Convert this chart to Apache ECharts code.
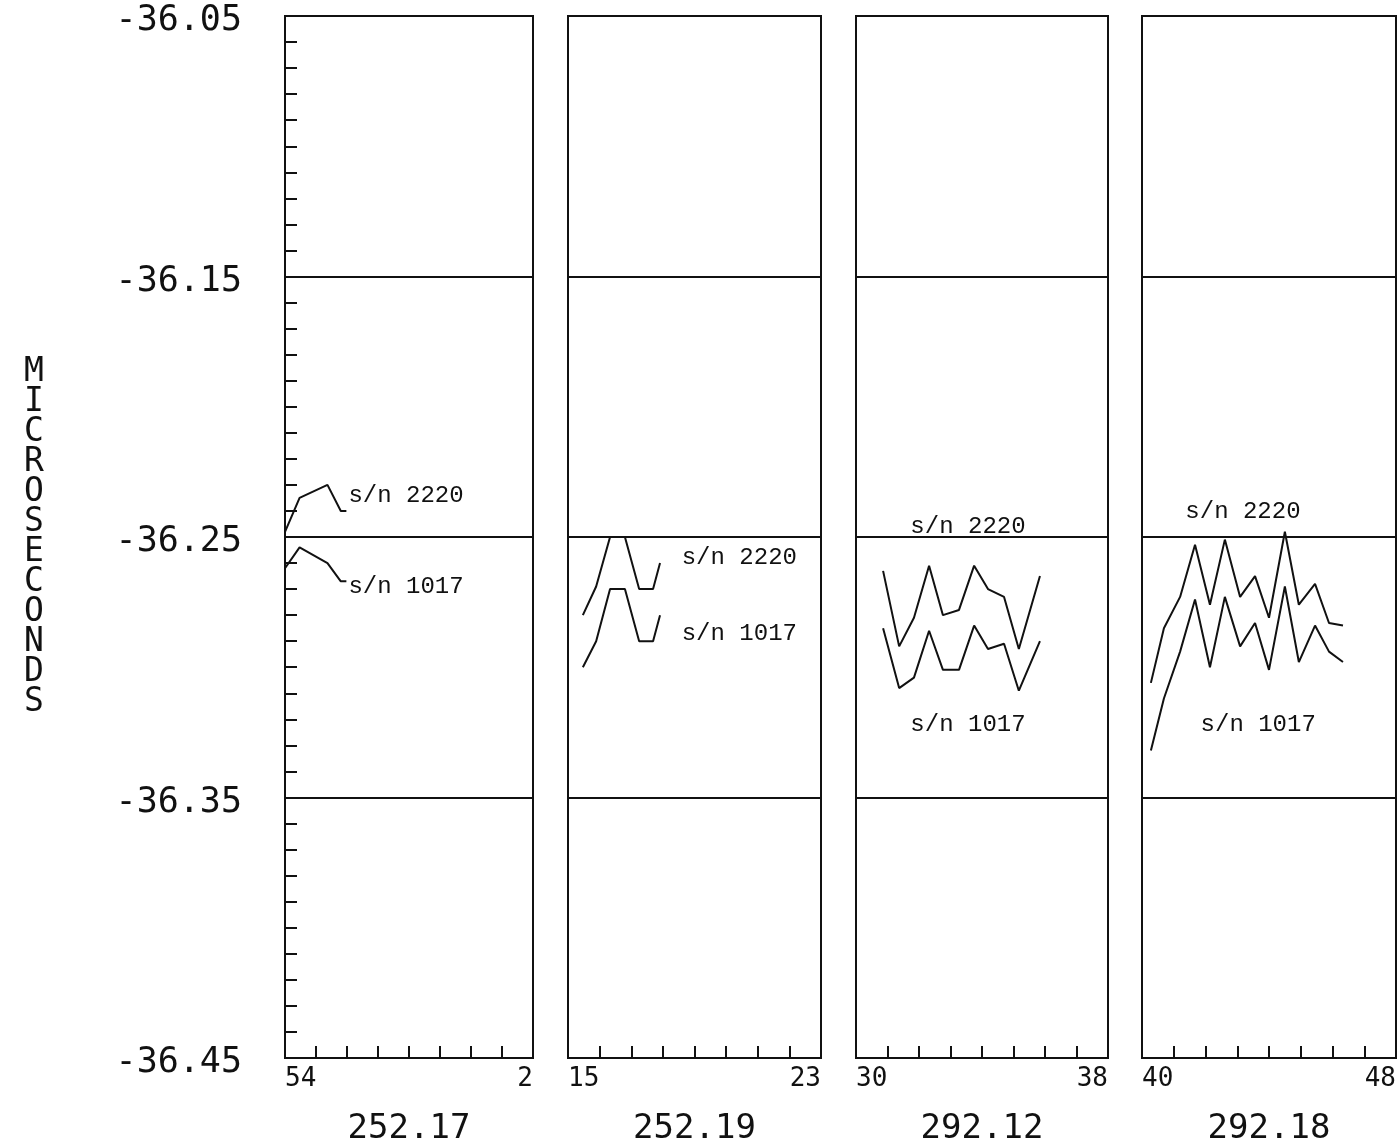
<!DOCTYPE html>
<html>
<head>
<meta charset="utf-8">
<script src="https://cdn.jsdelivr.net/npm/echarts@6/dist/echarts.min.js"></script>
<style>
html,body{margin:0;padding:0;background:#fff;}
#chart{width:1400px;height:1146px;}
</style>
</head>
<body>
<div id="chart"></div>
<script>
// ---- data ----
const panelNames = ['252.17', '252.19', '292.12', '292.18'];
const xTickLabels = [['54', '2'], ['15', '23'], ['30', '38'], ['40', '48']];
const gridLevels = [-36.15, -36.25, -36.35];
const seriesNames = ['s/n 2220', 's/n 1017'];
const yTitle = 'MICROSECONDS';

const p1Time = [0, 0.47, 1.37, 1.8, 1.98];
const p1SN2220 = [-36.248, -36.235, -36.230, -36.240, -36.240];
const p1SN1017 = [-36.262, -36.254, -36.260, -36.267, -36.267];

const p2Time = [0.47, 0.89, 1.33, 1.80, 2.25, 2.69, 2.91];
const p2SN2220 = [-36.280, -36.269, -36.250, -36.250, -36.270, -36.270, -36.260];
const p2SN1017 = [-36.300, -36.290, -36.270, -36.270, -36.290, -36.290, -36.280];

const p3Time = [0.86, 1.37, 1.84, 2.32, 2.76, 3.27, 3.75, 4.19, 4.70, 5.17, 5.84];
const p3SN2220 = [-36.263, -36.292, -36.281, -36.261, -36.280, -36.278, -36.261, -36.270, -36.273, -36.293, -36.265];
const p3SN1017 = [-36.285, -36.308, -36.304, -36.286, -36.301, -36.301, -36.284, -36.293, -36.291, -36.309, -36.290];

const p4Time = [0.28, 0.69, 1.20, 1.67, 2.14, 2.61, 3.09, 3.56, 4.0, 4.5, 4.94, 5.45, 5.89, 6.33];
const p4SN2220 = [-36.306, -36.285, -36.273, -36.253, -36.276, -36.251, -36.273, -36.265, -36.281, -36.248, -36.276, -36.268, -36.283, -36.284];
const p4SN1017 = [-36.332, -36.312, -36.294, -36.274, -36.300, -36.273, -36.292, -36.283, -36.301, -36.269, -36.298, -36.284, -36.294, -36.298];

const panelTimes = [p1Time, p2Time, p3Time, p4Time];
const panelValues = [[p1SN2220, p1SN1017], [p2SN2220, p2SN1017], [p3SN2220, p3SN1017], [p4SN2220, p4SN1017]];

// ---- layout (not data) ----
const gridBoxes = [
  {left: 285, width: 248},
  {left: 568, width: 253},
  {left: 856, width: 252},
  {left: 1142, width: 254}
];
const labelAnchors = [
  [[2.03, -36.2343], [2.03, -36.2692]],
  [[3.58, -36.2580], [3.58, -36.2872]],
  [[1.71, -36.2462], [1.71, -36.3220]],
  [[1.35, -36.2404], [1.83, -36.3220]]
];

const BLACK = '#111';
const plotFont = 'DejaVu Sans Mono';

const grids = [], xAxes = [], yAxes = [], series = [];
gridBoxes.forEach((g, i) => {
  grids.push({
    left: g.left, width: g.width, top: 16, height: 1042,
    containLabel: false, outerBoundsMode: 'none',
    show: true, borderColor: BLACK, borderWidth: 2, backgroundColor: 'transparent'
  });
  xAxes.push({
    type: 'value', gridIndex: i, min: 0, max: 8, interval: 1,
    name: panelNames[i], nameLocation: 'middle', nameGap: 54,
    nameTextStyle: {fontFamily: plotFont, fontSize: 34, color: BLACK},
    axisLine: {show: true, lineStyle: {color: BLACK, width: 2}},
    axisTick: {show: true, inside: true, length: 12, lineStyle: {color: BLACK, width: 2}},
    splitLine: {show: false},
    axisLabel: {
      show: true, margin: 8, fontFamily: plotFont, fontSize: 26, color: BLACK,
      showMinLabel: true, showMaxLabel: true,
      alignMinLabel: 'left', alignMaxLabel: 'right',
      formatter: (v) => v === 0 ? xTickLabels[i][0] : (v === 8 ? xTickLabels[i][1] : '')
    }
  });
  const first = i === 0;
  yAxes.push({
    type: 'value', gridIndex: i, min: -36.45, max: -36.05, interval: 0.05,
    name: first ? yTitle.split('').join('\n') : '',
    nameLocation: 'middle', nameGap: 251, nameRotate: 0,
    nameTextStyle: {
      fontFamily: plotFont, fontSize: 33, color: BLACK,
      lineHeight: 30, align: 'center', verticalAlign: 'middle'
    },
    axisLine: {show: true, lineStyle: {color: BLACK, width: 2}},
    axisTick: {show: first, inside: true, length: 12, lineStyle: {color: BLACK, width: 2}},
    minorTick: {show: first, splitNumber: 5, length: 12, lineStyle: {color: BLACK, width: 2}},
    splitLine: {show: false},
    minorSplitLine: {show: false},
    axisLabel: {
      show: first, margin: 43, fontFamily: plotFont, fontSize: 35, color: BLACK,
      verticalAlign: 'top', lineHeight: 10,
      showMinLabel: true, showMaxLabel: true,
      formatter: (v) => {
        const k = Math.round(v * 100);
        return (Math.abs(k) % 10 === 5) ? v.toFixed(2) : '';
      }
    }
  });
  panelValues[i].forEach((vals, s) => {
    const ser = {
      type: 'line', name: seriesNames[s],
      xAxisIndex: i, yAxisIndex: i,
      data: panelTimes[i].map((t, k) => [t, vals[k]]),
      showSymbol: false, symbol: 'none',
      lineStyle: {color: BLACK, width: 2},
      itemStyle: {color: BLACK},
      animation: false, silent: true,
      markPoint: {
        symbol: 'rect', symbolSize: 1, itemStyle: {color: 'rgba(0,0,0,0)'},
        label: {
          show: true, position: 'right', distance: 0, formatter: '{b}',
          color: BLACK, fontFamily: 'Liberation Mono', fontSize: 24
        },
        data: [{name: seriesNames[s], coord: labelAnchors[i][s]}],
        animation: false
      }
    };
    if (s === 0) {
      ser.markLine = {
        silent: true, symbol: ['none', 'none'], animation: false,
        label: {show: false},
        lineStyle: {color: BLACK, width: 2, type: 'solid'},
        emphasis: {disabled: true},
        data: gridLevels.map(v => ({yAxis: v}))
      };
    }
    series.push(ser);
  });
});

const chart = echarts.init(document.getElementById('chart'), null, {renderer: 'canvas'});
chart.setOption({
  backgroundColor: '#fff',
  animation: false,
  grid: grids,
  xAxis: xAxes,
  yAxis: yAxes,
  series: series
});
</script>
</body>
</html>
